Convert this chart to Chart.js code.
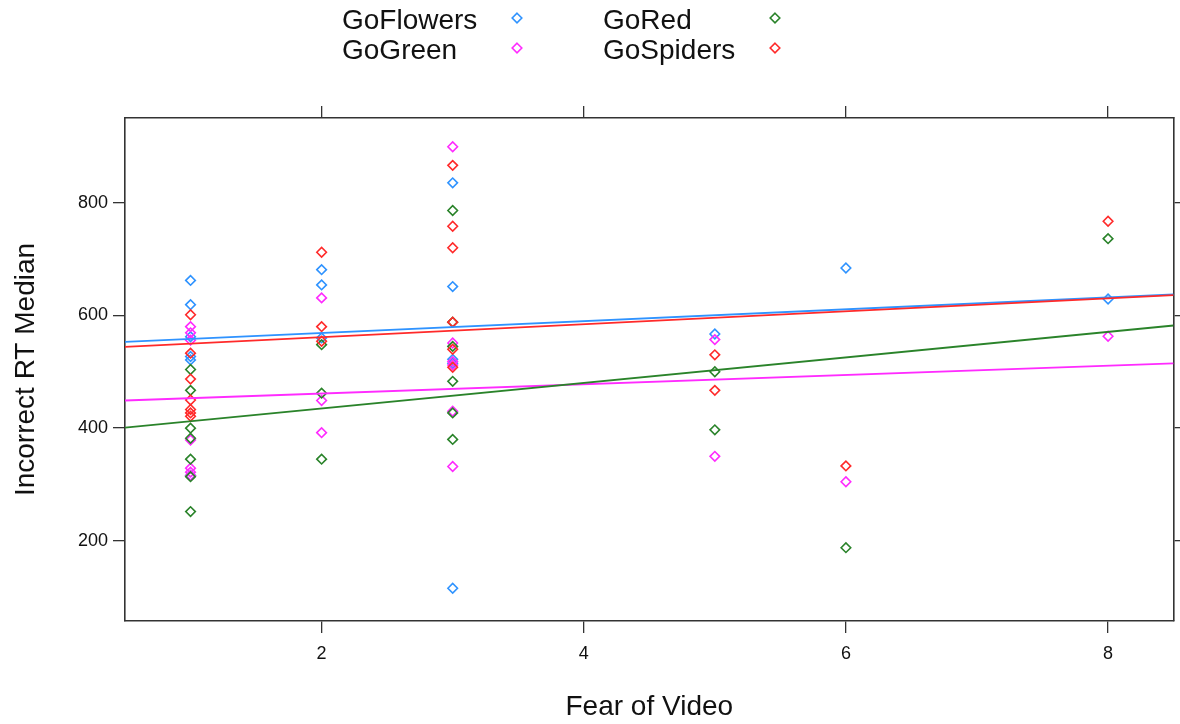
<!DOCTYPE html>
<html>
<head>
<meta charset="utf-8">
<script src="https://cdn.jsdelivr.net/npm/chart.js@4/dist/chart.umd.min.js"></script>
<style>
  html, body { margin: 0; padding: 0; background: #ffffff; }
  #wrap { width: 1180px; height: 724px; }
</style>
</head>
<body>
<div id="wrap"><canvas id="c" width="1180" height="724"></canvas></div>
<script>
// ---- Data ----
const groups = ["GoFlowers", "GoGreen", "GoRed", "GoSpiders"];

const fearFlowers = [1, 1, 1, 1, 1, 1, 2, 2, 2, 3, 3, 3, 3, 3, 5, 6, 8];
const rtFlowers   = [662, 619, 562, 527, 521, 316, 681, 654, 560, 835, 651, 522, 515, 116, 567, 684, 629];

const fearGreen = [1, 1, 1, 1, 1, 1, 1, 2, 2, 2, 3, 3, 3, 3, 3, 3, 5, 5, 6, 8];
const rtGreen   = [580, 569, 556, 379, 329, 322, 316, 631, 449, 392, 899, 551, 518, 512, 430, 332, 557, 350, 305, 563];

const fearRed = [1, 1, 1, 1, 1, 1, 1, 2, 2, 2, 3, 3, 3, 3, 3, 3, 5, 5, 6, 8];
const rtRed   = [504, 467, 400, 382, 345, 314, 252, 548, 462, 345, 786, 588, 545, 483, 427, 380, 500, 397, 188, 736];

const fearSpiders = [1, 1, 1, 1, 1, 1, 1, 2, 2, 2, 3, 3, 3, 3, 3, 3, 5, 5, 6, 8];
const rtSpiders   = [601, 533, 487, 450, 433, 427, 421, 712, 580, 554, 866, 758, 720, 588, 540, 508, 530, 467, 333, 767];

// fitted lines: value at left and right panel edges (x = 0.5 and x = 8.5)
const lineX        = [0.5, 8.5];
const lineFlowers  = [553, 637];
const lineGreen    = [449, 515];
const lineRed      = [401, 582];
const lineSpiders  = [544, 636];

const xTicks = [2, 4, 6, 8];
const yTicks = [200, 400, 600, 800];

const colors = {
  GoFlowers: "#2f93ff",
  GoGreen:   "#ff2bff",
  GoRed:     "#2a832a",
  GoSpiders: "#ff2a2a"
};

function pts(xs, ys) { return xs.map((x, i) => ({ x: x, y: ys[i] })); }

const pointSets = [
  ["GoFlowers", fearFlowers, rtFlowers],
  ["GoGreen", fearGreen, rtGreen],
  ["GoRed", fearRed, rtRed],
  ["GoSpiders", fearSpiders, rtSpiders]
];
const lineSets = [
  ["GoFlowers", lineFlowers],
  ["GoGreen", lineGreen],
  ["GoRed", lineRed],
  ["GoSpiders", lineSpiders]
];

const datasets = [];
// later groups on top (Chart.js draws first dataset last)
lineSets.slice().reverse().forEach(([name, ys]) => {
  datasets.push({
    type: "line",
    label: name + " fit",
    data: pts(lineX, ys),
    borderColor: colors[name],
    borderWidth: 1.8,
    pointRadius: 0,
    fill: false,
    tension: 0
  });
});
pointSets.slice().reverse().forEach(([name, xs, ys]) => {
  datasets.push({
    type: "scatter",
    label: name,
    data: pts(xs, ys),
    pointStyle: "rectRot",
    pointRadius: 4.8,
    pointBorderWidth: 1.6,
    borderColor: colors[name],
    backgroundColor: "rgba(0,0,0,0)",
    pointBackgroundColor: "rgba(0,0,0,0)",
    pointBorderColor: colors[name]
  });
});

const FONT = '"Liberation Sans", Arial, sans-serif';
const axisColor = "#333333";

function fixedTicks(vals) {
  return function (scale) { scale.ticks = vals.map(v => ({ value: v })); };
}

const legendPlugin = {
  id: "latticeLegend",
  afterDraw(chart) {
    const ctx = chart.ctx;
    const entries = [
      { name: "GoFlowers", tx: 342, mx: 517, y: 20 },
      { name: "GoRed",     tx: 603, mx: 775, y: 20 },
      { name: "GoGreen",   tx: 342, mx: 517, y: 50 },
      { name: "GoSpiders", tx: 603, mx: 775, y: 50 }
    ];
    ctx.save();
    ctx.font = "28px " + FONT;
    ctx.textBaseline = "middle";
    ctx.textAlign = "left";
    entries.forEach(e => {
      ctx.fillStyle = "#111111";
      ctx.fillText(e.name, e.tx, e.y + 1);
      const r = 4.8, cx = e.mx, cy = e.y - 2;
      ctx.beginPath();
      ctx.moveTo(cx, cy - r);
      ctx.lineTo(cx + r, cy);
      ctx.lineTo(cx, cy + r);
      ctx.lineTo(cx - r, cy);
      ctx.closePath();
      ctx.lineWidth = 1.6;
      ctx.strokeStyle = colors[e.name];
      ctx.stroke();
    });
    ctx.restore();
  }
};

const gridCfg = { drawOnChartArea: false, drawTicks: true, tickLength: 12, color: axisColor, lineWidth: 1.3 };
const borderCfg = { display: true, color: axisColor, width: 1.6 };

new Chart(document.getElementById("c"), {
  data: { datasets: datasets },
  plugins: [legendPlugin],
  options: {
    responsive: false,
    animation: false,
    devicePixelRatio: 1,
    layout: { padding: 0 },
    plugins: { legend: { display: false }, tooltip: { enabled: false }, title: { display: false } },
    scales: {
      x: {
        type: "linear", position: "bottom", min: 0.5, max: 8.5,
        afterBuildTicks: fixedTicks(xTicks),
        afterFit(s) { s.height = 103; },
        grid: gridCfg, border: borderCfg,
        ticks: { color: "#111", font: { family: FONT, size: 18 }, padding: 10 },
        title: { display: true, text: "Fear of Video", color: "#111", font: { family: FONT, size: 28 }, padding: { top: 0, bottom: 0 } }
      },
      x2: {
        type: "linear", position: "top", min: 0.5, max: 8.5,
        afterBuildTicks: fixedTicks(xTicks),
        afterFit(s) { s.height = 118; },
        grid: gridCfg, border: borderCfg,
        ticks: { display: false }
      },
      y: {
        type: "linear", position: "left", min: 58, max: 950,
        afterBuildTicks: fixedTicks(yTicks),
        afterFit(s) { s.width = 125; },
        grid: gridCfg, border: borderCfg,
        ticks: { color: "#111", font: { family: FONT, size: 18 }, padding: 5 },
        title: { display: true, text: "Incorrect RT Median", color: "#111", font: { family: FONT, size: 28 }, padding: { top: 9, bottom: 0 } }
      },
      y2: {
        type: "linear", position: "right", min: 58, max: 950,
        afterBuildTicks: fixedTicks(yTicks),
        afterFit(s) { s.width = 5; },
        grid: gridCfg, border: borderCfg,
        ticks: { display: false }
      }
    }
  }
});
</script>
</body>
</html>
